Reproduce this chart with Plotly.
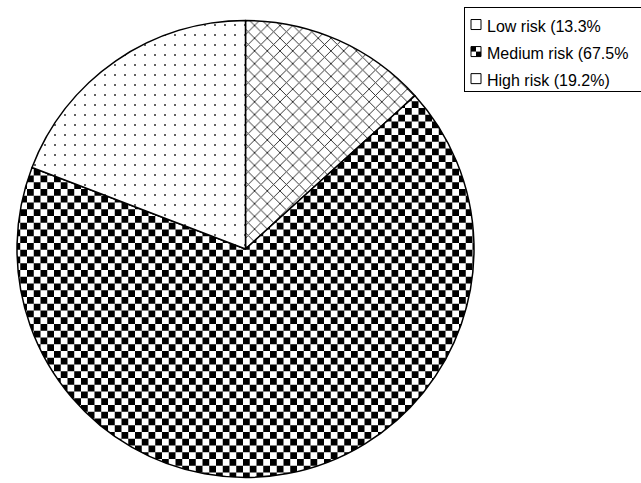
import plotly.graph_objects as go

# Risk distribution
labels = ["Low risk (13.3%", "Medium risk (67.5%", "High risk (19.2%)"]
values = [13.3, 67.5, 19.2]
shapes = ["x", "+", "."]
pattern_sizes = [9, 14, 10]
pattern_solidity = [0.2, 0.5, 0.03]

W, H = 641, 483
cx, cy, r = 245.5, 249.0, 228.5
LEG_LEFT, LEG_TOP = 446, 5

fig = go.Figure(
    go.Pie(
        labels=[f'<span style="font-size:16px">{t}</span>' for t in labels],
        values=values,
        sort=False,
        direction="clockwise",
        rotation=0,
        textinfo="none",
        hoverinfo="label+percent",
        marker=dict(
            colors=["white", "white", "white"],
            line=dict(color="black", width=1.5),
            pattern=dict(
                shape=shapes,
                size=pattern_sizes,
                solidity=pattern_solidity,
                fgcolor="#2a2a2a",
                bgcolor="white",
                fillmode="replace",
            ),
        ),
        domain=dict(
            x=[(cx - r) / W, (cx + r) / W],
            y=[(H - cy - r) / H, (H - cy + r) / H],
        ),
    )
)

fig.update_layout(
    width=W,
    height=H,
    margin=dict(l=0, r=0, t=0, b=0, autoexpand=False),
    paper_bgcolor="white",
    plot_bgcolor="white",
    font=dict(family="Arial, Liberation Sans, sans-serif", color="black"),
    showlegend=True,
    legend=dict(
        x=LEG_LEFT / W,
        y=1 - LEG_TOP / H,
        xanchor="left",
        yanchor="top",
        bordercolor="black",
        borderwidth=1,
        bgcolor="white",
        font=dict(size=18.5, family="Arial, Liberation Sans, sans-serif", color="black"),
    ),
)

# checkerboard fill for the medium-risk slice; compact legend frame and swatches
post = """
var gd = document.getElementById('{plot_id}');
var svg = gd.querySelector('svg.main-svg');
var ns = 'http://www.w3.org/2000/svg';
var defs = svg.querySelector('defs');
function checker(id, c) {
  var p = document.createElementNS(ns, 'pattern');
  p.setAttribute('id', id);
  p.setAttribute('patternUnits', 'userSpaceOnUse');
  p.setAttribute('width', 2 * c);
  p.setAttribute('height', 2 * c);
  var specs = [[0, 0, 2 * c, 2 * c, 'white'], [0, 0, c, c, 'black'], [c, c, c, c, 'black']];
  specs.forEach(function (s) {
    var rc = document.createElementNS(ns, 'rect');
    rc.setAttribute('x', s[0]); rc.setAttribute('y', s[1]);
    rc.setAttribute('width', s[2]); rc.setAttribute('height', s[3]);
    rc.setAttribute('fill', s[4]);
    p.appendChild(rc);
  });
  defs.appendChild(p);
}
checker('checker-big', 6.75);
checker('checker-small', 5);
var slices = gd.querySelectorAll('g.slice path.surface');
if (slices.length > 1) { slices[1].style.fill = 'url(#checker-big)'; }
var sw = gd.querySelectorAll('g.legend path.legendpie');
sw.forEach(function (el, i) {
  el.setAttribute('d', 'M5,5H-5V-5H5Z');
  el.setAttribute('transform', 'translate(29,0)');
  el.style.fill = (i === 1) ? 'url(#checker-small)' : 'white';
  el.style.strokeWidth = '1px';
});
var bg = gd.querySelector('g.legend rect.bg');
if (bg) {
  var w = parseFloat(bg.getAttribute('width'));
  bg.setAttribute('x', 18.5);
  bg.setAttribute('width', w);
  bg.setAttribute('y', 2.5);
  bg.setAttribute('height', 84);
}
"""

fig.write_html("out.html", post_script=post)
